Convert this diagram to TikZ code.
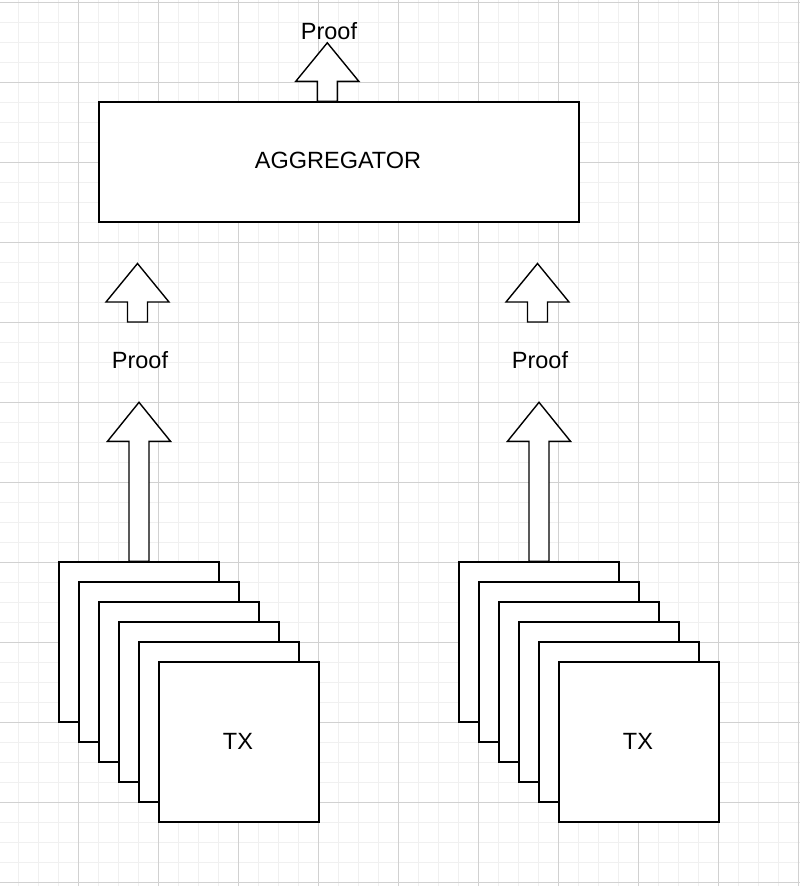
\documentclass[tikz,border=0pt]{standalone}
\usepackage{fontspec}
\setmainfont{Liberation Sans}
\usetikzlibrary{calc}
\newcommand{\blockarrow}[3]{%
  \draw[blk] ($(#1)+(-10,0)$) -- ++(0,-#2) -- ++(-21.5,0) -- ++(31.5,-#3) -- ++(31.5,#3) -- ++(-21.5,0) -- ++(0,#2) -- cycle;}
\begin{document}
\begin{tikzpicture}[x=1pt,y=-1pt,
  box/.style={draw=black,fill=white,line width=1.4pt,inner sep=0pt},
  lbl/.style={font=\fontsize{23.5}{28}\selectfont,inner sep=0pt,text height=16.8pt,text depth=0pt},
  blk/.style={draw=black,fill=white,line width=1.4pt,line join=miter},
  minorgrid/.style={draw=black!6,line width=1pt},
  majorgrid/.style={draw=black!18,line width=1pt}]
\useasboundingbox (0,0) rectangle (800,886);
\fill[white] (0,0) rectangle (800,886);
% grid
\foreach \x in {-1.5,18.5,...,800} \draw[minorgrid] (\x,0) -- (\x,886);
\foreach \y in {2,22,...,886} \draw[minorgrid] (0,\y) -- (800,\y);
\foreach \x in {78.5,158.5,...,800} \draw[majorgrid] (\x,0) -- (\x,886);
\foreach \y in {2,82,...,886} \draw[majorgrid] (0,\y) -- (800,\y);
% aggregator
\node[box,minimum width=480pt,minimum height=120pt] (agg) at (339,162) {};
\node[lbl] (aggt) at (338,160.5) {AGGREGATOR};
% top arrow and label
\coordinate (topbot) at ($(agg.north west)+(229,0)$);
\blockarrow{topbot}{20}{38.5}
\node[lbl] (proofTop) at (329,31.5) {Proof};
% middle arrows and labels
\coordinate (midL) at (137.5,322);
\coordinate (midR) at (537.5,322);
\blockarrow{midL}{20}{38.5}
\blockarrow{midR}{20}{38.5}
\node[lbl] (proofL) at (140,360) {Proof};
\node[lbl] (proofR) at (540,360) {Proof};
% stacks
\foreach \i in {0,...,5} {
  \node[box,minimum width=160pt,minimum height=160pt] (L\i) at (139+20*\i,642+20*\i) {};
}
\node[lbl] (txL) at (238,741.5) {TX};
\foreach \i in {0,...,5} {
  \node[box,minimum width=160pt,minimum height=160pt] (R\i) at (539+20*\i,642+20*\i) {};
}
\node[lbl] (txR) at (638,741.5) {TX};
% tall arrows
\blockarrow{L0.north}{120}{39}
\blockarrow{R0.north}{120}{39}
\end{tikzpicture}
\end{document}
